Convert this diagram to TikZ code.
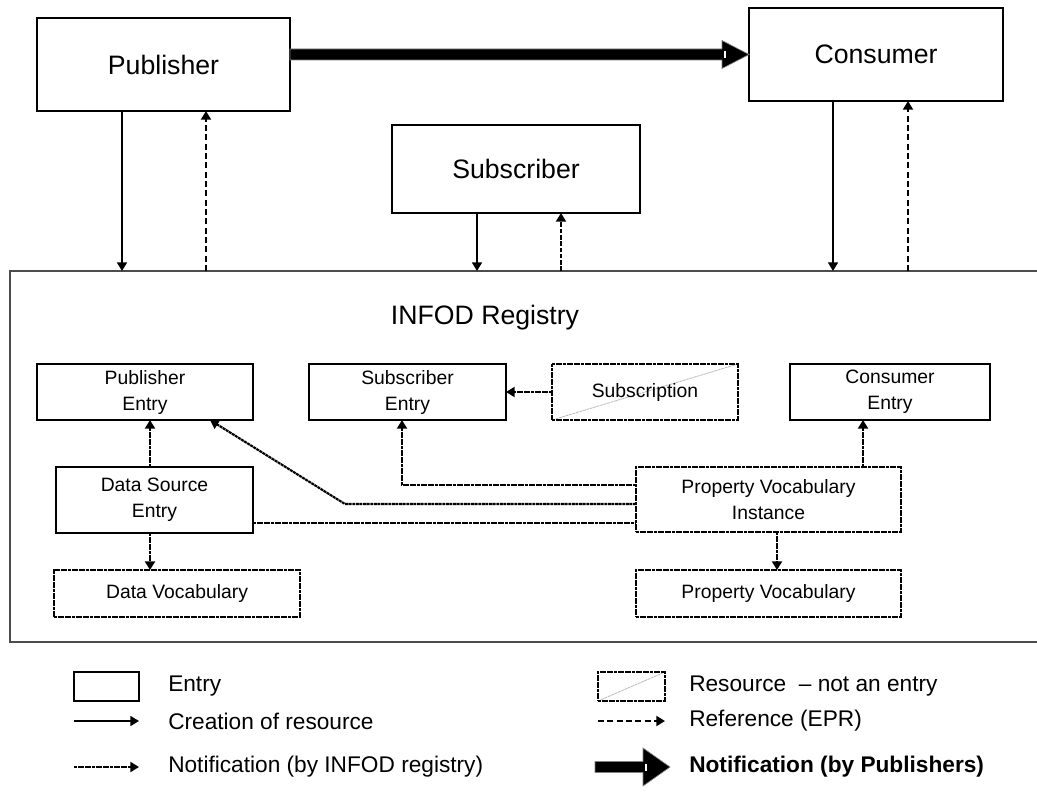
\documentclass[tikz,border=0pt]{standalone}
\usepackage{fontspec}
\setmainfont{Liberation Sans}
\usetikzlibrary{arrows.meta,calc}

% Broad block arrow: start, tip, head length, head half height
\newcommand\FatArrow[4]{%
  \path[fill=black, draw=gray, line width=0.5pt]
    ($(#1)+(0,-5.5)$) -- ($(#2)+(-#3,-5.5)$) -- ($(#2)+(-#3,-#4)$) -- (#2)
    -- ($(#2)+(-#3,#4)$) -- ($(#2)+(-#3,5.5)$) -- ($(#1)+(0,5.5)$) -- cycle;
  \draw[fill=white, line width=0.5pt]
    ($(#2)+(-#3+1,-4)$) rectangle ($(#2)+(-#3+4,4)$);}

\begin{document}
\begin{tikzpicture}[x=0.75pt, y=-0.75pt,
  box/.style={draw, line width=0.8pt, inner sep=0pt, outer sep=0pt, align=center},
  sz/.style 2 args={minimum width=#1*0.75pt, minimum height=#2*0.75pt},
  big/.style={font=\fontsize{20}{24}\selectfont},
  small/.style={font=\fontsize{14.5}{19.5}\selectfont},
  legtext/.style={font=\fontsize{17}{20}\selectfont, anchor=west, inner sep=0pt},
  dense/.style={line width=1.6pt, dash pattern=on 2.2pt off 0.5pt},
  tip/.style={-{Triangle[length=6.5pt,width=7.5pt]}},
  create/.style={line width=1.2pt, tip},
  ref/.style={line width=1.5pt, dash pattern=on 4.5pt off 2.5pt, tip},
  subref/.style={line width=1.5pt, dash pattern=on 3.5pt off 1.2pt, tip},
  notif/.style={dense, tip},
  resource/.style={box, dense},
  crossed/.style={path picture={\draw[gray!55, line width=0.6pt]
      (path picture bounding box.south west) -- (path picture bounding box.north east);}}
]
\useasboundingbox (0,0) rectangle (1037,809);

% outside actors
\node[box, big, sz={253}{93}] (pub) at (163.5,64.5) {Publisher};
\node[box, big, sz={254}{93}] (con) at (876,54.5) {Consumer};
\node[box, big, sz={248}{88}] (sub) at (516,169) {Subscriber};

% registry frame (open to the right)
\node[inner sep=0pt, outer sep=0pt, sz={1040}{371}] (reg) at (530,456.5) {};
\draw[gray!60!black, line width=1.2pt]
  (reg.north east) -- (reg.north west) -- (reg.south west) -- (reg.south east);
\node[big] (regt) at (485,318) {INFOD Registry};

% entries and resources inside the registry
\node[box, small, sz={216}{56}] (pe) at (145,392) {Publisher\\Entry};
\node[box, small, sz={197}{56}] (se) at (407.5,392) {Subscriber\\Entry};
\node[resource, crossed, small, sz={186}{56}] (subn) at (645,392) {Subscription};
\node[box, small, sz={200}{56}] (ce) at (890,392) {Consumer\\Entry};
\node[box, small, sz={197}{66}] (ds) at (154.5,500) {Data Source\\Entry};
\node[resource, small, sz={265}{65}] (pvi) at (768.5,499.5) {Property Vocabulary\\Instance};
\node[resource, small, sz={246}{47}] (dv) at (177,593.5) {Data Vocabulary};
\node[resource, small, sz={265}{47}] (pv) at (768.5,593.5) {Property Vocabulary};

% notification from publisher to consumer
\coordinate (ta) at (pub.east |- con.west);
\FatArrow{ta}{con.west}{27}{14}

% links between actors and the registry
\coordinate (x1) at (122,0);
\coordinate (x2) at (206,0);
\coordinate (x3) at (477,0);
\coordinate (x4) at (561,0);
\coordinate (x5) at (833,0);
\coordinate (x6) at (908,0);
\draw[create] (pub.south -| x1) -- (reg.north -| x1);
\draw[ref] (reg.north -| x2) -- (pub.south -| x2);
\draw[create] (sub.south -| x3) -- (reg.north -| x3);
\draw[subref] (reg.north -| x4) -- (sub.south -| x4);
\draw[create] (con.south -| x5) -- (reg.north -| x5);
\draw[ref] (reg.north -| x6) -- (con.south -| x6);

% links inside the registry
\coordinate (c1) at (150,0);
\coordinate (k1) at (402,485);
\coordinate (k2) at (345,504);
\coordinate (k3) at (210,0);
\coordinate (k4) at (0,523);
\coordinate (k5) at (863,0);
\coordinate (k6) at (777,0);
\draw[notif] (ds.north -| c1) -- (pe.south -| c1);
\draw[notif] (ds.south -| c1) -- (dv.north -| c1);
\draw[notif] (subn.west) -- (se.east);
\draw[notif] (pvi.west |- k1) -| (se.south -| k1);
\draw[notif] (pvi.west |- k2) -- (k2) -- (pe.south -| k3);
\draw[dense] (ds.east |- k4) -- (pvi.west |- k4);
\draw[notif] (pvi.north -| k5) -- (ce.south -| k5);
\draw[notif] (pvi.south -| k6) -- (pv.north -| k6);

% legend
\node[box, sz={65}{29}] (lgE) at (106.5,686.5) {};
\node[legtext] (lgEt) at (168,686) {Entry};
\coordinate (lc1) at (74,721);
\coordinate (lc2) at (139,721);
\draw[create] (lc1) -- (lc2);
\node[legtext] (lgCt) at (168,721) {Creation of resource};
\coordinate (ln1) at (74,767);
\coordinate (ln2) at (139,767);
\draw[notif] (ln1) -- (ln2);
\node[legtext] (lgNt) at (168,767) {Notification (by INFOD registry)};

\node[resource, crossed, sz={67}{29}] (lgR) at (631.5,686.5) {};
\node[legtext] (lgRt) at (689,686) {Resource \ \textendash\ not an entry};
\coordinate (lr1) at (598,721);
\coordinate (lr2) at (665,721);
\draw[ref] (lr1) -- (lr2);
\node[legtext] (lgFt) at (689,721) {Reference (EPR)};
\coordinate (lp1) at (595,767);
\coordinate (lp2) at (670,767);
\FatArrow{lp1}{lp2}{27}{19}
\node[legtext, font=\fontsize{17}{20}\selectfont\bfseries] (lgPt) at (689,767) {Notification (by Publishers)};
\end{tikzpicture}
\end{document}
